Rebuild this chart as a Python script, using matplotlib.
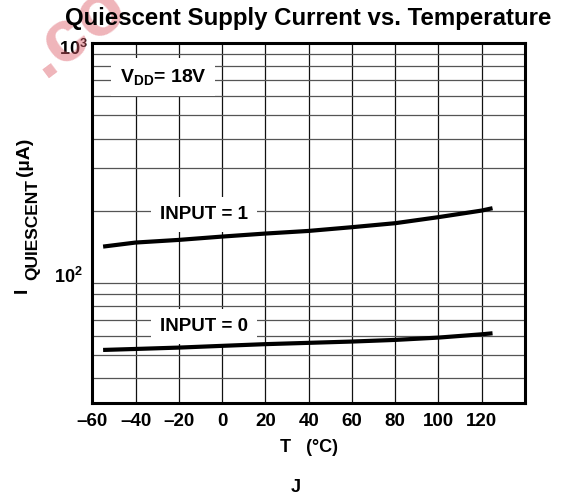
import matplotlib
matplotlib.use("Agg")
import matplotlib.pyplot as plt
from matplotlib.ticker import FixedLocator, NullFormatter
from matplotlib.transforms import blended_transform_factory

plt.rcParams['font.family'] = ['Liberation Sans', 'DejaVu Sans']
plt.rcParams['font.weight'] = 'bold'
plt.rcParams['mathtext.fontset'] = 'custom'
plt.rcParams['mathtext.rm'] = 'Liberation Sans:bold'
plt.rcParams['mathtext.bf'] = 'Liberation Sans:bold'
plt.rcParams['mathtext.default'] = 'bf'

# data
temp = [-55, -40, -20, 0, 20, 40, 60, 80, 100, 120, 125]
i_input1 = [141.4, 147.0, 150.8, 155.7, 160.3, 164.4, 170.4, 177.1, 187.7, 200.0, 204.6]
i_input0 = [52.3, 52.8, 53.5, 54.4, 55.3, 56.0, 56.7, 57.6, 58.9, 60.8, 61.4]

x_ticks = [-60, -40, -20, 0, 20, 40, 60, 80, 100, 120, 140]
x_labels = ['–60', '–40', '–20', '0', '20', '40', '60', '80', '100', '120', '']
y_minor = [40, 50, 60, 70, 80, 90, 200, 300, 400, 500, 600, 700, 800, 900]

fig = plt.figure(figsize=(5.61, 4.96), dpi=100)
ax = fig.add_axes([0.1645, 0.1869, 0.7713, 0.7258])

ax.set_yscale('log')
ax.set_xlim(-60, 140)
ax.set_ylim(31.3, 1000)

ax.plot(temp, i_input1, color='black', lw=3, solid_capstyle='butt', zorder=4)
ax.plot(temp, i_input0, color='black', lw=3, solid_capstyle='butt', zorder=4)

# grid
ax.set_xticks(x_ticks)
ax.set_xticklabels(x_labels, fontsize=13.5, fontweight='bold')
ax.yaxis.set_major_locator(FixedLocator([100, 1000]))
ax.yaxis.set_minor_locator(FixedLocator(y_minor))
ax.yaxis.set_major_formatter(NullFormatter())
ax.yaxis.set_minor_formatter(NullFormatter())
ax.tick_params(axis='both', which='both', length=0)
ax.tick_params(axis='x', pad=7)
ax.grid(True, axis='x', color='#111111', lw=0.9)
ax.grid(True, axis='y', which='both', color='#555555', lw=0.9)
ax.set_axisbelow(True)
for s in ax.spines.values():
    s.set_linewidth(2.2)

# y decade labels
trans = blended_transform_factory(ax.transAxes, ax.transData)
ax.annotate(r'$10^3$', xy=(0, 1000), xycoords=trans, xytext=(-4, -6),
            textcoords='offset pixels', ha='right', va='center', fontsize=13)
ax.annotate(r'$10^2$', xy=(0, 100), xycoords=trans, xytext=(-10, 6),
            textcoords='offset pixels', ha='right', va='center', fontsize=13)

# in-plot labels
box = dict(facecolor='white', edgecolor='none', pad=6.5)
ax.text(-27.3, 723, r'V$_{DD}$= 18V', fontsize=14, ha='center', va='center', bbox=box)
ax.text(-8.5, 192, 'INPUT = 1', fontsize=13.5, ha='center', va='center', bbox=box)
ax.text(-8.5, 65.5, 'INPUT = 0', fontsize=13.5, ha='center', va='center', bbox=box)

# watermark remnant, under the title
fig.text(12 / 561, 1 - 76 / 496, '.co', rotation=37, color='#dc5a66', alpha=0.45,
         fontsize=54, fontweight='bold', ha='left', va='baseline', zorder=1)

# titles and axis labels
fig.text(308 / 561, 1 - 18 / 496, 'Quiescent Supply Current vs. Temperature',
         ha='center', va='center', fontsize=17.3, fontweight='bold', zorder=5)

# y label built from pieces: I, subscript QUIESCENT, (µA)
fig.text(27 / 561, 1 - 293 / 496, 'I', rotation=90, rotation_mode='anchor',
         ha='left', va='baseline', fontsize=14)
fig.text(37 / 561, 1 - 280 / 496, 'QUIESCENT', rotation=90, rotation_mode='anchor',
         ha='left', va='baseline', fontsize=12.5)
fig.text(29 / 561, 1 - 176 / 496, '(µA)', rotation=90, rotation_mode='anchor',
         ha='left', va='baseline', fontsize=14)

fig.text(309 / 561, 1 - 448 / 496, 'T   (°C)', ha='center', va='center',
         fontsize=13, fontweight='bold')
fig.text(296 / 561, 1 - 487 / 496, 'J', ha='center', va='center',
         fontsize=13, fontweight='bold')

fig.savefig('out.png', dpi=100)
